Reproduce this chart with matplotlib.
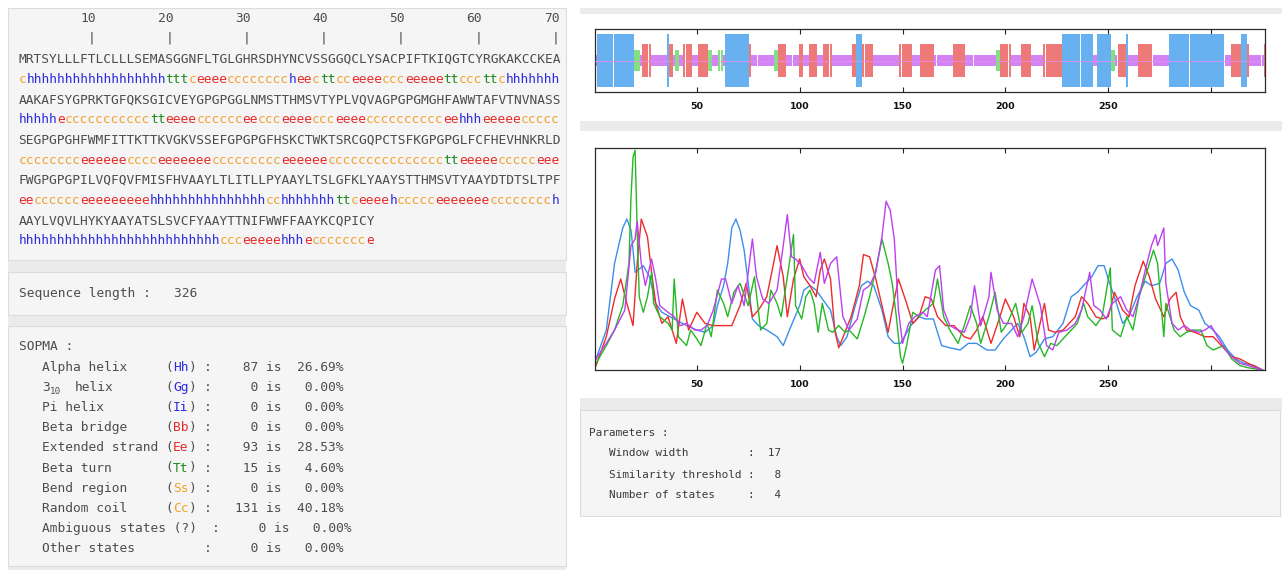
import numpy as np
import matplotlib
matplotlib.use("Agg")
import matplotlib.pyplot as plt
from matplotlib.patches import Rectangle

# ---------------------------------------------------------------- data
SEQ_LINES = [
    "MRTSYLLLFTLCLLLSEMASGGNFLTGLGHRSDHYNCVSSGGQCLYSACPIFTKIQGTCYRGKAKCCKEA",
    "AAKAFSYGPRKTGFQKSGICVEYGPGPGGLNMSTTHMSVTYPLVQVAGPGPGMGHFAWWTAFVTNVNASS",
    "SEGPGPGHFWMFITTKTTKVGKVSSEFGPGPGFHSKCTWKTSRCGQPCTSFKGPGPGLFCFHEVHNKRLD",
    "FWGPGPGPILVQFQVFMISFHVAAYLTLITLLPYAAYLTSLGFKLYAAYSTTHMSVTYAAYDTDTSLTPF",
    "AAYLVQVLHYKYAAYATSLSVCFYAAYTTNIFWWFFAAYKCQPICY",
]

# SOPMA state per residue, as (state, run length) for each printed line
SS_RUNS = [
    [("c", 1), ("h", 18), ("t", 3), ("c", 1), ("e", 4), ("c", 8), ("h", 1), ("e", 2),
     ("c", 1), ("t", 2), ("c", 2), ("e", 4), ("c", 3), ("e", 5), ("t", 2), ("c", 3),
     ("t", 2), ("c", 1), ("h", 7)],
    [("h", 5), ("e", 1), ("c", 11), ("t", 2), ("e", 4), ("c", 6), ("e", 2), ("c", 3),
     ("e", 4), ("c", 3), ("e", 4), ("c", 10), ("e", 2), ("h", 3), ("e", 5), ("c", 5)],
    [("c", 8), ("e", 6), ("c", 4), ("e", 7), ("c", 9), ("e", 6), ("c", 15), ("t", 2),
     ("e", 5), ("c", 5), ("e", 3)],
    [("e", 2), ("c", 6), ("e", 9), ("h", 15), ("c", 2), ("h", 7), ("t", 2), ("c", 1),
     ("e", 4), ("h", 1), ("c", 5), ("e", 7), ("c", 8), ("h", 1)],
    [("h", 26), ("c", 3), ("e", 5), ("h", 3), ("e", 1), ("c", 7), ("e", 1)],
]

RULER = [10, 20, 30, 40, 50, 60, 70]

SOPMA_LABELS = ["Alpha helix", "3_10 helix", "Pi helix", "Beta bridge",
                "Extended strand", "Beta turn", "Bend region", "Random coil"]
SOPMA_CODES = ["Hh", "Gg", "Ii", "Bb", "Ee", "Tt", "Ss", "Cc"]
SOPMA_COUNTS = [87, 0, 0, 0, 93, 15, 0, 131]
AMBIGUOUS_COUNT = 0
OTHER_COUNT = 0

PARAM_NAMES = ["Window width", "Similarity threshold", "Number of states"]
PARAM_VALUES = [17, 8, 4]

TICKS = [50, 100, 150, 200, 250, 300]
TICK_LABELS = ["50", "100", "150", "200", "250", ""]

# per-residue state scores (residue, score)
HELIX_RES = [1, 6, 10, 14, 16, 18, 19, 20, 24, 27, 30, 33, 37, 45, 50, 54, 58, 60, 63, 65,
             67, 69, 71, 73, 75, 77, 80, 84, 89, 92, 95, 100, 102, 105, 108, 111, 115, 118, 120, 123,
             127, 130, 133, 136, 140, 143, 146, 149, 154, 158, 161, 165, 169, 173, 178, 182, 186, 191, 195, 199,
             203, 206, 209, 212, 215, 219, 223, 228, 232, 235, 238, 242, 245, 248, 250, 254, 257, 260, 264, 268,
             271, 275, 278, 281, 284, 287, 290, 294, 297, 301, 304, 308, 312, 316, 321, 325]
HELIX_P = [0.05, 0.18, 0.48, 0.64, 0.68, 0.63, 0.54, 0.44, 0.47, 0.42, 0.30, 0.26, 0.24, 0.20, 0.18, 0.17, 0.20, 0.29, 0.38, 0.48,
           0.64, 0.68, 0.63, 0.54, 0.39, 0.23, 0.20, 0.18, 0.15, 0.11, 0.18, 0.29, 0.36, 0.38, 0.36, 0.32, 0.27, 0.15, 0.11, 0.15,
           0.29, 0.38, 0.40, 0.38, 0.27, 0.15, 0.12, 0.12, 0.20, 0.24, 0.23, 0.23, 0.11, 0.10, 0.09, 0.12, 0.12, 0.09, 0.09, 0.14,
           0.18, 0.21, 0.15, 0.06, 0.08, 0.14, 0.15, 0.21, 0.33, 0.35, 0.38, 0.42, 0.47, 0.47, 0.41, 0.30, 0.21, 0.24, 0.33, 0.40,
           0.38, 0.39, 0.48, 0.50, 0.45, 0.35, 0.29, 0.27, 0.21, 0.18, 0.15, 0.09, 0.05, 0.03, 0.02, 0.00]

STRAND_RES = [1, 6, 10, 13, 16, 19, 21, 23, 26, 28, 30, 33, 36, 40, 43, 46, 50, 54, 58, 62,
              67, 71, 74, 77, 80, 84, 86, 89, 92, 94, 97, 100, 102, 105, 108, 110, 112, 115, 117, 119,
              122, 125, 129, 131, 134, 137, 140, 143, 145, 148, 152, 155, 158, 161, 164, 167, 171, 175, 180, 183,
              186, 189, 193, 197, 200, 204, 207, 209, 212, 214, 219, 221, 224, 228, 231, 234, 237, 240, 244, 247,
              250, 253, 257, 260, 263, 267, 270, 273, 277, 280, 283, 285, 288, 292, 297, 301, 305, 310, 314, 318,
              325]
STRAND_P = [0.02, 0.15, 0.32, 0.41, 0.30, 0.20, 0.48, 0.68, 0.60, 0.44, 0.30, 0.21, 0.24, 0.12, 0.32, 0.18, 0.26, 0.21, 0.20, 0.20,
            0.20, 0.29, 0.39, 0.24, 0.27, 0.33, 0.42, 0.56, 0.42, 0.24, 0.41, 0.50, 0.42, 0.38, 0.33, 0.45, 0.50, 0.41, 0.18, 0.10,
            0.17, 0.24, 0.38, 0.52, 0.51, 0.41, 0.29, 0.17, 0.27, 0.41, 0.30, 0.21, 0.24, 0.33, 0.32, 0.24, 0.20, 0.20, 0.15, 0.14,
            0.18, 0.24, 0.12, 0.23, 0.32, 0.24, 0.15, 0.30, 0.24, 0.09, 0.30, 0.18, 0.17, 0.18, 0.21, 0.24, 0.33, 0.30, 0.24, 0.23,
            0.24, 0.35, 0.27, 0.24, 0.38, 0.49, 0.42, 0.32, 0.24, 0.32, 0.35, 0.24, 0.18, 0.17, 0.15, 0.15, 0.11, 0.06, 0.05, 0.03,
            0.00]

TURN_RES = [1, 6, 10, 14, 17, 18, 19, 20, 21, 22, 24, 26, 28, 29, 32, 36, 38, 39, 41, 45,
            47, 50, 52, 55, 57, 60, 63, 65, 68, 71, 75, 78, 81, 84, 86, 89, 91, 94, 97, 98,
            101, 103, 105, 107, 109, 111, 114, 116, 119, 122, 124, 128, 131, 134, 137, 140, 143, 145, 147, 149,
            150, 152, 155, 158, 161, 165, 167, 170, 173, 177, 180, 183, 186, 188, 192, 195, 198, 201, 205, 208,
            211, 213, 216, 219, 222, 225, 229, 232, 235, 238, 240, 244, 247, 249, 251, 252, 256, 259, 262, 265,
            269, 272, 274, 277, 278, 282, 285, 288, 291, 295, 298, 301, 306, 310, 314, 318, 325]
TURN_P = [0.03, 0.11, 0.18, 0.29, 0.48, 0.78, 0.96, 0.99, 0.63, 0.33, 0.26, 0.33, 0.44, 0.30, 0.24, 0.21, 0.18, 0.41, 0.15, 0.11,
          0.18, 0.14, 0.11, 0.21, 0.15, 0.36, 0.30, 0.24, 0.35, 0.39, 0.29, 0.42, 0.18, 0.21, 0.36, 0.30, 0.24, 0.42, 0.61, 0.29,
          0.23, 0.33, 0.36, 0.30, 0.17, 0.30, 0.18, 0.17, 0.20, 0.17, 0.18, 0.14, 0.23, 0.33, 0.45, 0.59, 0.48, 0.39, 0.24, 0.06,
          0.03, 0.11, 0.26, 0.24, 0.27, 0.30, 0.41, 0.24, 0.18, 0.12, 0.20, 0.29, 0.21, 0.12, 0.24, 0.35, 0.17, 0.21, 0.30, 0.17,
          0.21, 0.29, 0.12, 0.06, 0.12, 0.11, 0.15, 0.18, 0.21, 0.30, 0.24, 0.20, 0.24, 0.35, 0.46, 0.18, 0.15, 0.24, 0.18, 0.33,
          0.45, 0.54, 0.48, 0.15, 0.30, 0.18, 0.15, 0.17, 0.18, 0.18, 0.11, 0.09, 0.11, 0.05, 0.02, 0.01, 0.00]

COIL_RES = [1, 6, 10, 15, 18, 20, 21, 23, 25, 28, 30, 32, 36, 39, 42, 45, 49, 52, 55, 58,
            62, 64, 67, 70, 73, 77, 79, 82, 85, 89, 92, 94, 96, 98, 101, 104, 107, 110, 112, 115,
            118, 121, 124, 128, 131, 134, 137, 140, 142, 144, 146, 148, 150, 153, 156, 160, 162, 166, 168, 170,
            173, 177, 180, 183, 185, 188, 192, 193, 196, 199, 203, 206, 209, 213, 217, 220, 223, 226, 230, 234,
            237, 241, 243, 246, 249, 252, 256, 259, 262, 265, 268, 271, 273, 274, 277, 278, 281, 284, 287, 290,
            294, 297, 300, 303, 307, 310, 314, 318, 325]
COIL_P = [0.05, 0.12, 0.18, 0.27, 0.56, 0.59, 0.67, 0.48, 0.38, 0.50, 0.41, 0.29, 0.26, 0.24, 0.20, 0.21, 0.18, 0.18, 0.20, 0.27,
          0.41, 0.41, 0.30, 0.38, 0.29, 0.59, 0.42, 0.32, 0.30, 0.36, 0.56, 0.70, 0.51, 0.50, 0.47, 0.42, 0.39, 0.53, 0.39, 0.48,
          0.51, 0.24, 0.18, 0.23, 0.36, 0.38, 0.44, 0.60, 0.76, 0.72, 0.59, 0.27, 0.12, 0.21, 0.24, 0.26, 0.24, 0.45, 0.47, 0.27,
          0.20, 0.18, 0.17, 0.24, 0.38, 0.20, 0.33, 0.44, 0.27, 0.21, 0.21, 0.15, 0.24, 0.41, 0.29, 0.11, 0.09, 0.17, 0.18, 0.21,
          0.27, 0.44, 0.29, 0.27, 0.23, 0.30, 0.33, 0.27, 0.24, 0.33, 0.45, 0.56, 0.61, 0.56, 0.64, 0.39, 0.21, 0.18, 0.20, 0.18,
          0.17, 0.18, 0.20, 0.15, 0.09, 0.06, 0.03, 0.02, 0.00]

# ---------------------------------------------------------------- styles
TEXT_GRAY = "#4d4d4d"
SS_TEXT = {"h": "#2b2bdf", "e": "#e62a2a", "c": "#f2a12a", "t": "#1f8a1f"}
CODE_COLOR = {"H": SS_TEXT["h"], "G": SS_TEXT["h"], "I": SS_TEXT["h"], "B": SS_TEXT["e"],
              "E": SS_TEXT["e"], "T": SS_TEXT["t"], "S": SS_TEXT["c"], "C": SS_TEXT["c"]}
STRIP_COLOR = {"h": "#4aa2ee", "e": "#ea5f5f", "t": "#6bd96b", "c": "#c96cf2"}
STRIP_HALF = {"h": 0.83, "e": 0.51, "t": 0.33, "c": 0.19}
LINE_COLOR = {"h": "#3b8fe8", "e": "#ee2b2b", "t": "#25b825", "c": "#bd3ff0"}

BOX = "#f5f5f5"
BAND = "#ebebeb"
EDGE = "#dcdcdc"
MONO = "DejaVu Sans Mono"

W, H = 1282, 570
fig = plt.figure(figsize=(W / 100, H / 100), dpi=100)
fig.patch.set_facecolor("white")

bg = fig.add_axes([0, 0, 1, 1])
bg.set_xlim(0, W)
bg.set_ylim(H, 0)
bg.axis("off")


def rect(x, y, w, h, fc, ec="none", lw=0.8):
    bg.add_patch(Rectangle((x, y), w, h, facecolor=fc, edgecolor=ec, linewidth=lw))


# page panels
rect(8, 259, 558, 14, BAND)
rect(8, 314, 558, 13, BAND)
rect(8, 565, 558, 5, BAND)
rect(8, 8, 558, 252, BOX, EDGE)
rect(8, 272, 558, 43, BOX, EDGE)
rect(8, 326, 558, 240, BOX, EDGE)

rect(580, 8, 702, 6, BAND)
rect(580, 121, 702, 10, BAND)
rect(580, 398, 702, 12, BAND)
rect(580, 410, 700, 106, BOX, EDGE)

# ---------------------------------------------------------------- sequence text
PITCH = 7.725
X0 = 18.6
FS = PITCH / 0.602 * 72 / 100


def put(col, y, s, color, size=FS, x0=X0, pitch=PITCH, **kw):
    bg.text(x0 + col * pitch, y, s, color=color, fontsize=size, family=MONO,
            va="center", ha="left", **kw)


for n in RULER:
    bg.text(X0 + n * PITCH, 19, str(n), color=TEXT_GRAY, fontsize=FS, family=MONO,
            va="center", ha="right")
    bg.text(X0 + (n - 0.5) * PITCH, 38, "|", color=TEXT_GRAY, fontsize=FS, family=MONO,
            va="center", ha="center")

ROW0, ROW_STEP = 59.5, 20.15
for i, (seq, runs) in enumerate(zip(SEQ_LINES, SS_RUNS)):
    put(0, ROW0 + 2 * i * ROW_STEP, seq, TEXT_GRAY)
    col = 0
    for state, n in runs:
        put(col, ROW0 + (2 * i + 1) * ROW_STEP, state * n, SS_TEXT[state])
        col += n

ss_string = "".join(state * n for runs in SS_RUNS for state, n in runs)
seq_len = sum(len(s) for s in SEQ_LINES)

# ---------------------------------------------------------------- summary text
put(0, 294, f"Sequence length :   {seq_len}", TEXT_GRAY)
put(0, 347, "SOPMA :", TEXT_GRAY)

S0, S_STEP = 367.5, 20.1
for k, (label, code, cnt) in enumerate(zip(SOPMA_LABELS, SOPMA_CODES, SOPMA_COUNTS)):
    y = S0 + k * S_STEP
    pct = f"{100 * cnt / seq_len:.2f}%"
    if label == "3_10 helix":
        put(3, y, "3", TEXT_GRAY)
        bg.text(X0 + 4 * PITCH, y + 3.5, "10", color=TEXT_GRAY, fontsize=FS * 0.72,
                family=MONO, va="center", ha="left")
        bg.text(74.5, y, "helix", color=TEXT_GRAY, fontsize=FS, family=MONO,
                va="center", ha="left")
    else:
        put(3, y, label, TEXT_GRAY)
    put(19, y, "(", TEXT_GRAY)
    put(20, y, code, CODE_COLOR[code[0]])
    put(22, y, ")", TEXT_GRAY)
    put(24, y, f": {cnt:>5} is {pct:>7}", TEXT_GRAY)

y = S0 + 8 * S_STEP
pct = f"{100 * AMBIGUOUS_COUNT / seq_len:.2f}%"
put(3, y, "Ambiguous states (?)", TEXT_GRAY)
put(25, y, f": {AMBIGUOUS_COUNT:>5} is {pct:>7}", TEXT_GRAY)
y = S0 + 9 * S_STEP
pct = f"{100 * OTHER_COUNT / seq_len:.2f}%"
put(3, y, "Other states", TEXT_GRAY)
put(24, y, f": {OTHER_COUNT:>5} is {pct:>7}", TEXT_GRAY)

# parameters box
P_PITCH = 6.62
P_FS = P_PITCH / 0.602 * 72 / 100
P_X0 = 589
p_rows = [433, 453.5, 474.5, 495]
put(0, p_rows[0], "Parameters :", "#3a3a3a", size=P_FS, x0=P_X0, pitch=P_PITCH)
for yy, name, val in zip(p_rows[1:], PARAM_NAMES, PARAM_VALUES):
    put(3, yy, name, "#3a3a3a", size=P_FS, x0=P_X0, pitch=P_PITCH)
    put(24, yy, f": {val:>3}", "#3a3a3a", size=P_FS, x0=P_X0, pitch=P_PITCH)


# ---------------------------------------------------------------- plots
def px_axes(left, top, right, bottom):
    return fig.add_axes([left / W, 1 - bottom / H, (right - left) / W, (bottom - top) / H])


def style_axis(ax):
    ax.set_xlim(0.5, 326.2)
    ax.set_xticks(TICKS)
    ax.set_xticklabels(TICK_LABELS, fontsize=6.8, fontweight="bold", family="DejaVu Sans")
    ax.set_yticks([])
    ax.tick_params(axis="x", direction="in", length=3.5, width=0.8, top=True, bottom=True,
                   pad=7.5, colors="#222222", labelcolor="#111111")
    for sp in ax.spines.values():
        sp.set_color("#2a2a2a")
        sp.set_linewidth(0.9)
    ax.set_facecolor("white")


residues = np.arange(1, len(ss_string) + 1)
states = np.array(list(ss_string))

ax1 = px_axes(595, 29, 1265, 92)
for st in ["c", "t", "e", "h"]:
    sel = states == st
    half = STRIP_HALF[st]
    ax1.vlines(residues[sel], -half, half, colors=STRIP_COLOR[st], linewidth=1.2, zorder=2)
ax1.axhline(0, color="#e48cf2", lw=0.6, zorder=3)
ax1.set_ylim(-1, 1)
style_axis(ax1)

ax2 = px_axes(595, 148, 1265, 370)
ax2.plot(HELIX_RES, HELIX_P, color=LINE_COLOR["h"], lw=1.0)
ax2.plot(STRAND_RES, STRAND_P, color=LINE_COLOR["e"], lw=1.0)
ax2.plot(TURN_RES, TURN_P, color=LINE_COLOR["t"], lw=1.0)
ax2.plot(COIL_RES, COIL_P, color=LINE_COLOR["c"], lw=1.0)
ax2.set_ylim(0, 1.0)
style_axis(ax2)

fig.savefig("out.png", dpi=100, facecolor="white")
